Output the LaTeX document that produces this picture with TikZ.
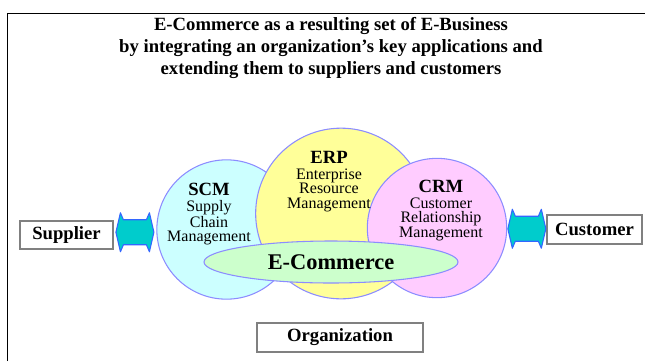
\documentclass[tikz,border=0pt]{standalone}
\usepackage{fontspec}
\setmainfont{Liberation Serif}
\usetikzlibrary{shapes.geometric,calc}

\definecolor{scmfill}{RGB}{204,255,255}
\definecolor{erpfill}{RGB}{255,255,153}
\definecolor{crmfill}{RGB}{255,204,255}
\definecolor{ecomfill}{RGB}{204,255,204}
\definecolor{ringline}{RGB}{140,140,255}
\definecolor{arrfill}{RGB}{0,204,204}
\definecolor{arrline}{RGB}{51,102,255}

\begin{document}
\begin{tikzpicture}[x=0.75pt,y=-0.75pt,
  ring/.style={circle,draw=ringline,line width=0.8pt,inner sep=0pt},
  oval/.style={ellipse,draw=ringline,line width=0.8pt,inner sep=0pt},
  lbl/.style={align=center,anchor=north,inner sep=0pt,
    font=\fontsize{12}{10.8}\selectfont},
  party/.style={draw=gray,line width=0.8pt,fill=white,inner sep=0pt,
    font=\fontsize{14}{16}\selectfont\bfseries},
  twoway/.pic={
    \filldraw[draw=arrline,fill=arrfill,line width=0.8pt,line join=round]
      (-19,0) -- (-14.5,-19.5) -- (-11.5,-12.5) -- (11.5,-12.5) -- (14.5,-19.5)
      -- (19,0) -- (14.5,19.5) -- (11.5,12.5) -- (-11.5,12.5) -- (-14.5,19.5) -- cycle;
  }]
\useasboundingbox (0,0) rectangle (645,361);
% frame
\draw[line width=0.6pt] (7,361) -- (7,13) -- (645,13);

% heading
\node[align=center,font=\fontsize{14}{16.5}\selectfont\bfseries] (title) at (331,48)
  {E-Commerce as a resulting set of E-Business\\
   by integrating an organization’s key applications and\\
   extending them to suppliers and customers};

% the three applications, then e-commerce on top
\node[ring,fill=scmfill,minimum size=104.5pt] (scm) at (226.5,229.5) {};
\node[ring,fill=erpfill,minimum size=128pt] (erp) at (341,213.5) {};
\node[ring,fill=crmfill,minimum size=104.5pt] (crm) at (437,228) {};
\node[lbl] (scmtxt) at (209,183) {{\fontsize{14}{10.8}\selectfont\bfseries SCM}\\[1pt]Supply\\Chain\\Management};
\node[lbl] (erptxt) at (329,151) {{\fontsize{14}{10.8}\selectfont\bfseries ERP}\\[1pt]Enterprise\\Resource\\Management};
\node[lbl] (crmtxt) at (441,180) {{\fontsize{14}{10.8}\selectfont\bfseries CRM}\\[1pt]Customer\\Relationship\\Management};
\node[oval,fill=ecomfill,minimum width=190.5pt,minimum height=31.5pt,
  font=\fontsize{16.8}{18}\selectfont\bfseries] (ecom) at (331,262) {E-Commerce};

% outside parties
\node[party,minimum width=69.75pt,minimum height=21pt] (sup) at (66.5,235) {Supplier};
\node[party,minimum width=71.25pt,minimum height=21.75pt] (cus) at (594.5,229.5) {Customer};
\node[party,minimum width=124.5pt,minimum height=21.75pt] (org) at (340,337.5) {Organization};

% two-way links to the parties
\path ($(sup.east)!0.5!(scm.west)$) coordinate (arrl) pic {twoway};
\path ($(crm.east)!0.5!(cus.west)$) coordinate (arrr) pic {twoway};
\end{tikzpicture}
\end{document}
